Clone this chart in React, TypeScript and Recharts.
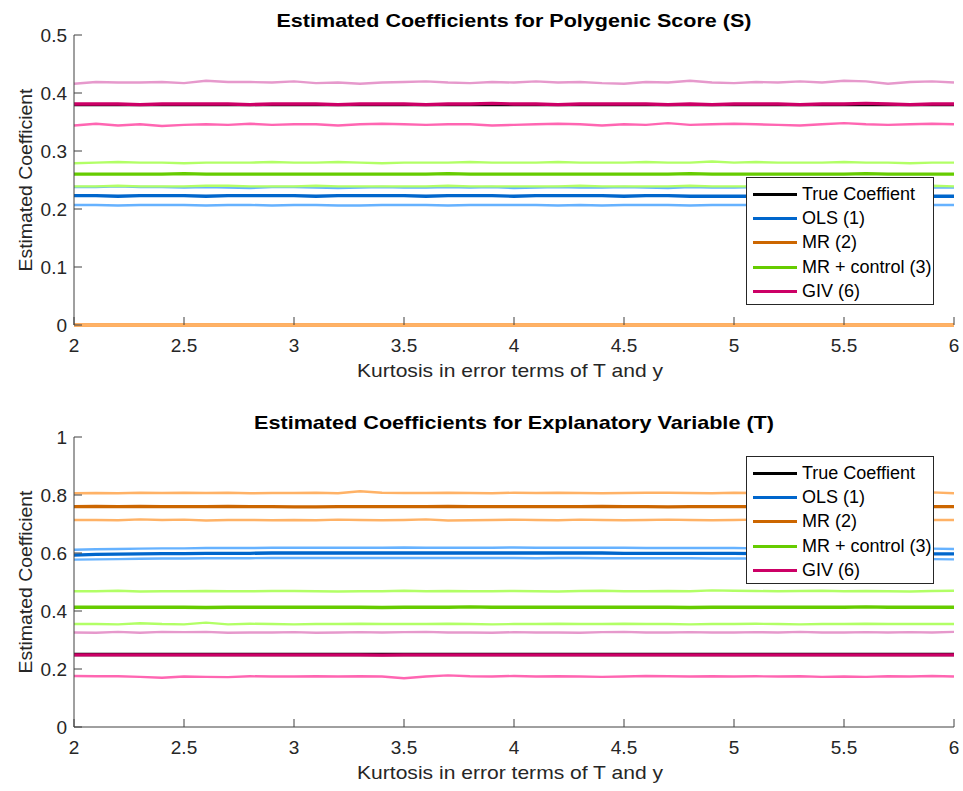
import { LineChart, Line, XAxis, YAxis, Legend } from 'recharts';

// kurtosis grid shared by both panels
const kurtosis = [
  2.0, 2.1, 2.2, 2.3, 2.4, 2.5, 2.6, 2.7, 2.8, 2.9,
  3.0, 3.1, 3.2, 3.3, 3.4, 3.5, 3.6, 3.7, 3.8, 3.9,
  4.0, 4.1, 4.2, 4.3, 4.4, 4.5, 4.6, 4.7, 4.8, 4.9,
  5.0, 5.1, 5.2, 5.3, 5.4, 5.5, 5.6, 5.7, 5.8, 5.9,
  6.0,
];

// --- polygenic score (S) ---
const trueS = [
  0.38, 0.38, 0.38, 0.38, 0.38, 0.38, 0.38, 0.38, 0.38, 0.38,
  0.38, 0.38, 0.38, 0.38, 0.38, 0.38, 0.38, 0.38, 0.38, 0.38,
  0.38, 0.38, 0.38, 0.38, 0.38, 0.38, 0.38, 0.38, 0.38, 0.38,
  0.38, 0.38, 0.38, 0.38, 0.38, 0.38, 0.38, 0.38, 0.38, 0.38,
  0.38,
];
const olsMeanS = [
  0.223, 0.223, 0.222, 0.223, 0.223, 0.223, 0.222, 0.223, 0.223, 0.223,
  0.223, 0.222, 0.223, 0.223, 0.223, 0.223, 0.222, 0.223, 0.223, 0.223,
  0.222, 0.223, 0.223, 0.223, 0.223, 0.222, 0.223, 0.223, 0.222, 0.222,
  0.222, 0.222, 0.223, 0.222, 0.222, 0.222, 0.222, 0.222, 0.222, 0.222,
  0.222,
];
const olsUpS = [
  0.238, 0.238, 0.239, 0.238, 0.238, 0.237, 0.238, 0.237, 0.236, 0.238,
  0.238, 0.237, 0.236, 0.237, 0.238, 0.237, 0.237, 0.238, 0.237, 0.238,
  0.236, 0.237, 0.238, 0.237, 0.237, 0.238, 0.237, 0.236, 0.238, 0.237,
  0.237, 0.238, 0.237, 0.238, 0.237, 0.238, 0.237, 0.237, 0.238, 0.237,
  0.237,
];
const olsLoS = [
  0.207, 0.207, 0.206, 0.207, 0.207, 0.207, 0.206, 0.207, 0.207, 0.206,
  0.207, 0.207, 0.206, 0.206, 0.207, 0.207, 0.207, 0.206, 0.207, 0.207,
  0.207, 0.207, 0.206, 0.207, 0.206, 0.207, 0.207, 0.207, 0.206, 0.207,
  0.207, 0.207, 0.207, 0.207, 0.206, 0.207, 0.207, 0.206, 0.207, 0.207,
  0.207,
];
const mrMeanS = [
  0, 0, 0, 0, 0, 0, 0, 0, 0, 0,
  0, 0, 0, 0, 0, 0, 0, 0, 0, 0,
  0, 0, 0, 0, 0, 0, 0, 0, 0, 0,
  0, 0, 0, 0, 0, 0, 0, 0, 0, 0,
  0,
];
const mrUpS = [
  0, 0, 0, 0, 0, 0, 0, 0, 0, 0,
  0, 0, 0, 0, 0, 0, 0, 0, 0, 0,
  0, 0, 0, 0, 0, 0, 0, 0, 0, 0,
  0, 0, 0, 0, 0, 0, 0, 0, 0, 0,
  0,
];
const mrLoS = [
  0, 0, 0, 0, 0, 0, 0, 0, 0, 0,
  0, 0, 0, 0, 0, 0, 0, 0, 0, 0,
  0, 0, 0, 0, 0, 0, 0, 0, 0, 0,
  0, 0, 0, 0, 0, 0, 0, 0, 0, 0,
  0,
];
const mrcMeanS = [
  0.260, 0.260, 0.260, 0.260, 0.260, 0.261, 0.260, 0.260, 0.260, 0.260,
  0.260, 0.260, 0.260, 0.260, 0.260, 0.260, 0.260, 0.261, 0.260, 0.260,
  0.260, 0.260, 0.260, 0.260, 0.260, 0.260, 0.260, 0.260, 0.261, 0.260,
  0.260, 0.260, 0.260, 0.260, 0.260, 0.260, 0.261, 0.260, 0.260, 0.260,
  0.260,
];
const mrcUpS = [
  0.279, 0.280, 0.281, 0.280, 0.280, 0.279, 0.280, 0.280, 0.280, 0.281,
  0.280, 0.280, 0.281, 0.280, 0.279, 0.280, 0.280, 0.280, 0.281, 0.280,
  0.280, 0.280, 0.281, 0.280, 0.280, 0.280, 0.281, 0.280, 0.280, 0.282,
  0.280, 0.281, 0.280, 0.280, 0.280, 0.281, 0.280, 0.280, 0.279, 0.280,
  0.280,
];
const mrcLoS = [
  0.239, 0.239, 0.240, 0.239, 0.239, 0.239, 0.240, 0.240, 0.239, 0.239,
  0.239, 0.240, 0.239, 0.239, 0.239, 0.239, 0.239, 0.240, 0.239, 0.239,
  0.239, 0.239, 0.239, 0.240, 0.239, 0.239, 0.239, 0.239, 0.240, 0.239,
  0.239, 0.239, 0.240, 0.239, 0.239, 0.240, 0.239, 0.239, 0.239, 0.240,
  0.239,
];
const givMeanS = [
  0.381, 0.381, 0.381, 0.380, 0.381, 0.381, 0.381, 0.381, 0.380, 0.381,
  0.381, 0.381, 0.380, 0.381, 0.381, 0.381, 0.380, 0.381, 0.381, 0.382,
  0.381, 0.381, 0.380, 0.381, 0.381, 0.381, 0.381, 0.380, 0.381, 0.380,
  0.381, 0.381, 0.381, 0.380, 0.381, 0.381, 0.382, 0.381, 0.380, 0.381,
  0.381,
];
const givUpS = [
  0.416, 0.419, 0.418, 0.418, 0.419, 0.417, 0.421, 0.419, 0.419, 0.418,
  0.420, 0.417, 0.418, 0.416, 0.418, 0.419, 0.420, 0.418, 0.417, 0.419,
  0.418, 0.420, 0.418, 0.419, 0.417, 0.416, 0.419, 0.418, 0.421, 0.418,
  0.417, 0.419, 0.418, 0.420, 0.418, 0.421, 0.420, 0.416, 0.419, 0.420,
  0.418,
];
const givLoS = [
  0.344, 0.347, 0.344, 0.346, 0.343, 0.345, 0.346, 0.345, 0.347, 0.345,
  0.346, 0.346, 0.344, 0.346, 0.347, 0.346, 0.345, 0.346, 0.346, 0.344,
  0.345, 0.346, 0.347, 0.346, 0.344, 0.346, 0.345, 0.348, 0.345, 0.346,
  0.347, 0.346, 0.345, 0.344, 0.346, 0.348, 0.346, 0.345, 0.346, 0.347,
  0.346,
];

// --- explanatory variable (T) ---
const trueT = [
  0.25, 0.25, 0.25, 0.25, 0.25, 0.25, 0.25, 0.25, 0.25, 0.25,
  0.25, 0.25, 0.25, 0.25, 0.25, 0.25, 0.25, 0.25, 0.25, 0.25,
  0.25, 0.25, 0.25, 0.25, 0.25, 0.25, 0.25, 0.25, 0.25, 0.25,
  0.25, 0.25, 0.25, 0.25, 0.25, 0.25, 0.25, 0.25, 0.25, 0.25,
  0.25,
];
const olsMeanT = [
  0.593, 0.595, 0.596, 0.597, 0.598, 0.598, 0.599, 0.599, 0.599, 0.600,
  0.600, 0.600, 0.600, 0.600, 0.600, 0.600, 0.600, 0.600, 0.600, 0.600,
  0.600, 0.600, 0.600, 0.600, 0.600, 0.599, 0.599, 0.599, 0.599, 0.599,
  0.599, 0.598, 0.598, 0.598, 0.598, 0.598, 0.598, 0.597, 0.597, 0.597,
  0.597,
];
const olsUpT = [
  0.611, 0.613, 0.614, 0.615, 0.616, 0.616, 0.617, 0.617, 0.617, 0.618,
  0.618, 0.618, 0.618, 0.618, 0.618, 0.619, 0.618, 0.618, 0.618, 0.618,
  0.619, 0.618, 0.618, 0.618, 0.618, 0.618, 0.617, 0.617, 0.617, 0.617,
  0.617, 0.616, 0.616, 0.616, 0.616, 0.616, 0.616, 0.615, 0.615, 0.615,
  0.614,
];
const olsLoT = [
  0.577, 0.578, 0.579, 0.580, 0.581, 0.581, 0.582, 0.582, 0.582, 0.583,
  0.583, 0.583, 0.583, 0.583, 0.583, 0.583, 0.583, 0.583, 0.583, 0.583,
  0.583, 0.582, 0.583, 0.583, 0.582, 0.582, 0.582, 0.582, 0.582, 0.581,
  0.581, 0.581, 0.581, 0.581, 0.581, 0.580, 0.580, 0.580, 0.580, 0.579,
  0.578,
];
const mrMeanT = [
  0.760, 0.761, 0.760, 0.761, 0.760, 0.760, 0.760, 0.761, 0.760, 0.760,
  0.759, 0.759, 0.760, 0.760, 0.760, 0.760, 0.760, 0.761, 0.760, 0.760,
  0.760, 0.760, 0.760, 0.760, 0.761, 0.760, 0.760, 0.759, 0.760, 0.760,
  0.760, 0.760, 0.760, 0.761, 0.760, 0.760, 0.760, 0.760, 0.761, 0.760,
  0.760,
];
const mrUpT = [
  0.806, 0.807, 0.806, 0.808, 0.807, 0.808, 0.807, 0.808, 0.806, 0.807,
  0.807, 0.808, 0.806, 0.813, 0.808, 0.807, 0.807, 0.808, 0.807, 0.806,
  0.808, 0.807, 0.808, 0.807, 0.806, 0.807, 0.808, 0.808, 0.807, 0.806,
  0.808, 0.807, 0.809, 0.806, 0.807, 0.808, 0.810, 0.807, 0.808, 0.809,
  0.806,
];
const mrLoT = [
  0.714, 0.714, 0.713, 0.716, 0.714, 0.715, 0.712, 0.714, 0.714, 0.713,
  0.714, 0.713, 0.715, 0.714, 0.713, 0.714, 0.716, 0.712, 0.713, 0.714,
  0.715, 0.714, 0.713, 0.715, 0.714, 0.713, 0.714, 0.715, 0.714, 0.713,
  0.714, 0.715, 0.713, 0.714, 0.712, 0.714, 0.715, 0.714, 0.713, 0.714,
  0.714,
];
const mrcMeanT = [
  0.413, 0.413, 0.413, 0.413, 0.413, 0.413, 0.412, 0.413, 0.413, 0.413,
  0.413, 0.413, 0.413, 0.413, 0.412, 0.413, 0.413, 0.413, 0.414, 0.413,
  0.413, 0.413, 0.413, 0.413, 0.413, 0.413, 0.413, 0.413, 0.412, 0.413,
  0.413, 0.413, 0.413, 0.413, 0.413, 0.413, 0.414, 0.413, 0.413, 0.413,
  0.413,
];
const mrcUpT = [
  0.468, 0.468, 0.470, 0.467, 0.468, 0.468, 0.469, 0.468, 0.468, 0.469,
  0.469, 0.468, 0.467, 0.468, 0.468, 0.470, 0.468, 0.469, 0.468, 0.468,
  0.469, 0.468, 0.467, 0.469, 0.470, 0.468, 0.468, 0.469, 0.468, 0.471,
  0.470, 0.469, 0.468, 0.469, 0.470, 0.468, 0.469, 0.468, 0.467, 0.469,
  0.470,
];
const mrcLoT = [
  0.355, 0.355, 0.354, 0.358, 0.355, 0.354, 0.360, 0.354, 0.356, 0.355,
  0.354, 0.355, 0.355, 0.356, 0.355, 0.355, 0.355, 0.356, 0.355, 0.354,
  0.355, 0.355, 0.356, 0.355, 0.355, 0.356, 0.355, 0.355, 0.354, 0.355,
  0.355, 0.356, 0.355, 0.354, 0.355, 0.355, 0.356, 0.355, 0.355, 0.355,
  0.355,
];
const givMeanT = [
  0.249, 0.249, 0.249, 0.249, 0.249, 0.249, 0.249, 0.249, 0.249, 0.249,
  0.249, 0.249, 0.249, 0.249, 0.248, 0.249, 0.249, 0.249, 0.249, 0.249,
  0.249, 0.249, 0.249, 0.249, 0.249, 0.249, 0.249, 0.249, 0.249, 0.249,
  0.249, 0.249, 0.249, 0.249, 0.249, 0.249, 0.249, 0.249, 0.249, 0.249,
  0.249,
];
const givUpT = [
  0.326, 0.325, 0.328, 0.325, 0.328, 0.327, 0.328, 0.325, 0.326, 0.326,
  0.327, 0.325, 0.326, 0.327, 0.326, 0.327, 0.328, 0.326, 0.326, 0.325,
  0.327, 0.326, 0.326, 0.325, 0.327, 0.328, 0.326, 0.326, 0.327, 0.326,
  0.326, 0.327, 0.326, 0.328, 0.326, 0.326, 0.327, 0.326, 0.327, 0.326,
  0.328,
];
const givLoT = [
  0.176, 0.175, 0.175, 0.173, 0.170, 0.174, 0.173, 0.172, 0.175, 0.174,
  0.174, 0.175, 0.174, 0.175, 0.174, 0.168, 0.174, 0.178, 0.175, 0.174,
  0.176, 0.174, 0.175, 0.174, 0.173, 0.174, 0.176, 0.175, 0.174, 0.175,
  0.174, 0.175, 0.174, 0.175, 0.173, 0.174, 0.173, 0.175, 0.174, 0.176,
  0.174,
];

const xTicks = [2, 2.5, 3, 3.5, 4, 4.5, 5, 5.5, 6];
const sTicks = [0, 0.1, 0.2, 0.3, 0.4, 0.5];
const tTicks = [0, 0.2, 0.4, 0.6, 0.8, 1];

const FONT = '"Liberation Sans", Arial, Helvetica, sans-serif';
const AXIS = '#404040';

const legendItems = [
  { name: 'True Coeffient', color: '#000000' },
  { name: 'OLS (1)', color: '#0066CC' },
  { name: 'MR (2)', color: '#CC6600' },
  { name: 'MR + control (3)', color: '#66CC00' },
  { name: 'GIV (6)', color: '#CC0066' },
];

type Series = { key: string; values: number[]; color: string; width: number };

const MEAN_W = 3.3;
const BAND_W = 2.4;

// true value and means underneath, interval lines drawn over them
function buildSeries(v: number[][], mrBandW: number): Series[] {
  const [tr, om, ou, ol, mm, mu, ml, cm, cu, cl, gm, gu, gl] = v;
  return [
    { key: 'true', values: tr, color: '#000000', width: MEAN_W },
    { key: 'olsMean', values: om, color: '#0066CC', width: MEAN_W },
    { key: 'mrMean', values: mm, color: '#CC6600', width: MEAN_W },
    { key: 'mrcMean', values: cm, color: '#66CC00', width: MEAN_W },
    { key: 'givMean', values: gm, color: '#CC0066', width: MEAN_W },
    { key: 'olsUp', values: ou, color: '#66B2FF', width: BAND_W },
    { key: 'olsLo', values: ol, color: '#66B2FF', width: BAND_W },
    { key: 'mrUp', values: mu, color: '#FFB266', width: mrBandW },
    { key: 'mrLo', values: ml, color: '#FFB266', width: mrBandW },
    { key: 'mrcUp', values: cu, color: '#B2FF66', width: BAND_W },
    { key: 'mrcLo', values: cl, color: '#B2FF66', width: BAND_W },
    { key: 'givUp', values: gu, color: '#E699CC', width: BAND_W },
    { key: 'givLo', values: gl, color: '#FF66B2', width: BAND_W },
  ];
}

// MR sits at zero for S, so its interval lines fully cover its mean there
const seriesS = buildSeries([
  trueS, olsMeanS, olsUpS, olsLoS, mrMeanS, mrUpS, mrLoS,
  mrcMeanS, mrcUpS, mrcLoS, givMeanS, givUpS, givLoS,
], 3.4);
const seriesT = buildSeries([
  trueT, olsMeanT, olsUpT, olsLoT, mrMeanT, mrUpT, mrLoT,
  mrcMeanT, mrcUpT, mrcLoT, givMeanT, givUpT, givLoT,
], BAND_W);

function toRows(series: Series[]) {
  return kurtosis.map((x, i) => {
    const row: Record<string, number> = { x };
    series.forEach((s) => {
      row[s.key] = s.values[i];
    });
    return row;
  });
}

function LegendBox() {
  return (
    <div
      style={{
        width: 186,
        height: 122,
        border: '1px solid #262626',
        background: '#fff',
        paddingTop: 4,
        boxSizing: 'content-box',
        fontFamily: FONT,
        fontSize: 18,
        color: '#000',
      }}
    >
      {legendItems.map((it) => (
        <div key={it.name} style={{ height: 24.4, display: 'flex', alignItems: 'center' }}>
          <div style={{ width: 44, height: 3, background: it.color, marginLeft: 6, marginRight: 5 }} />
          <span style={{ whiteSpace: 'nowrap' }}>{it.name}</span>
        </div>
      ))}
    </div>
  );
}

type PanelProps = {
  top: number;
  height: number;
  marginTop: number;
  xAxisHeight: number;
  series: Series[];
  yMax: number;
  yTicks: number[];
  legendTop: number;
  title: string;
  titleLength: number;
  showXAxisLine: boolean;
};

function Panel(p: PanelProps) {
  const plotTop = p.marginTop;
  const plotBottom = p.height - p.xAxisHeight;
  const midY = (plotTop + plotBottom) / 2;
  const tickFont = { fill: '#262626', fontSize: 19, fontFamily: FONT };
  return (
    <div style={{ position: 'absolute', left: 0, top: p.top, width: 963, height: p.height }}>
      <LineChart
        width={963}
        height={p.height}
        data={toRows(p.series)}
        margin={{ top: p.marginTop, right: 9, bottom: 0, left: 0 }}
        style={{ overflow: 'visible' }}
      >
        <XAxis
          dataKey="x"
          type="number"
          domain={[2, 6]}
          ticks={xTicks}
          interval={0}
          height={p.xAxisHeight}
          tickSize={-8}
          tickMargin={22}
          axisLine={p.showXAxisLine ? { stroke: AXIS } : false}
          tickLine={{ stroke: AXIS }}
          tick={tickFont}
        />
        <YAxis
          type="number"
          domain={[0, p.yMax]}
          ticks={p.yTicks}
          interval={0}
          width={74}
          tickSize={-8}
          tickMargin={15}
          axisLine={{ stroke: AXIS }}
          tickLine={{ stroke: AXIS }}
          tick={tickFont}
        />
        {p.series.map((s) => (
          <Line
            key={s.key}
            dataKey={s.key}
            type="linear"
            stroke={s.color}
            strokeWidth={s.width}
            dot={false}
            activeDot={false}
            isAnimationActive={false}
          />
        ))}
        <Legend
          layout="horizontal"
          verticalAlign="middle"
          align="center"
          content={() => <LegendBox />}
          wrapperStyle={{ left: 746, top: p.legendTop, width: 'auto', height: 'auto' }}
        />
      </LineChart>
      <svg
        width={963}
        height={p.height}
        style={{ position: 'absolute', left: 0, top: 0, pointerEvents: 'none' }}
      >
        <text
          x={514}
          y={plotTop - 8}
          textAnchor="middle"
          fontFamily={FONT}
          fontWeight="bold"
          fontSize={19}
          fill="#000"
          textLength={p.titleLength}
          lengthAdjust="spacingAndGlyphs"
        >
          {p.title}
        </text>
        <text
          x={510}
          y={plotBottom + 52}
          textAnchor="middle"
          fontFamily={FONT}
          fontSize={19}
          fill="#262626"
          textLength={306}
          lengthAdjust="spacingAndGlyphs"
        >
          Kurtosis in error terms of T and y
        </text>
        <text
          x={0}
          y={0}
          transform={`translate(32, ${midY}) rotate(-90)`}
          textAnchor="middle"
          fontFamily={FONT}
          fontSize={19}
          fill="#262626"
          textLength={183}
          lengthAdjust="spacingAndGlyphs"
        >
          Estimated Coefficient
        </text>
      </svg>
    </div>
  );
}

export default function App() {
  return (
    <div style={{ position: 'absolute', left: 0, top: 0, width: 963, height: 791, background: '#fff' }}>
      <Panel
        top={0}
        height={395}
        marginTop={35}
        xAxisHeight={70}
        series={seriesS}
        yMax={0.5}
        yTicks={sTicks}
        legendTop={177}
        title="Estimated Coefficients for Polygenic Score (S)"
        titleLength={475}
        showXAxisLine={false}
      />
      <Panel
        top={395}
        height={396}
        marginTop={42}
        xAxisHeight={64}
        series={seriesT}
        yMax={1}
        yTicks={tTicks}
        legendTop={61}
        title="Estimated Coefficients for Explanatory Variable (T)"
        titleLength={520}
        showXAxisLine={true}
      />
    </div>
  );
}
